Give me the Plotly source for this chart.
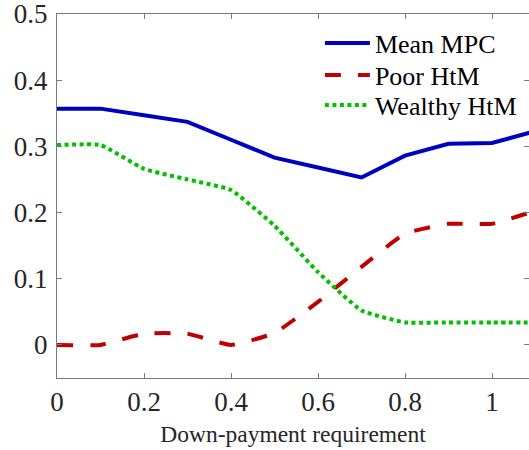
import plotly.graph_objects as go

x = [0.0, 0.1, 0.2, 0.3, 0.4, 0.5, 0.6, 0.7, 0.8, 0.9, 1.0, 1.1]
mean_mpc = [0.357, 0.357, 0.347, 0.337, 0.310, 0.283, 0.268, 0.253, 0.286, 0.304, 0.305, 0.323]
poor_htm = [0.0, 0.0, 0.017, 0.017, 0.0, 0.018, 0.065, 0.118, 0.168, 0.183, 0.183, 0.203]
wealthy_htm = [0.302, 0.302, 0.266, 0.250, 0.234, 0.180, 0.110, 0.052, 0.034, 0.034, 0.034, 0.034]

xticks = [0, 0.2, 0.4, 0.6, 0.8, 1.0]
xticklabels = ["0", "0.2", "0.4", "0.6", "0.8", "1"]
yticks = [0, 0.1, 0.2, 0.3, 0.4, 0.5]
yticklabels = ["0", "0.1", "0.2", "0.3", "0.4", "0.5"]

font_family = "Liberation Serif, Times New Roman, serif"
axis_color = "#7a7a7a"
text_color = "#262626"

fig = go.Figure()
fig.add_trace(go.Scatter(x=x, y=mean_mpc, mode="lines", name="Mean MPC", legend="legend",
                         line=dict(color="#0000c0", width=4)))
fig.add_trace(go.Scatter(x=x, y=poor_htm, mode="lines", name="Poor HtM", legend="legend2",
                         line=dict(color="#c00000", width=4, dash="16px,17px",
                                   shape="spline", smoothing=0.4)))
fig.add_trace(go.Scatter(x=x, y=wealthy_htm, mode="lines", name="Wealthy HtM", legend="legend3",
                         line=dict(color="#00c000", width=4, dash="4px,3.5px",
                                   shape="spline", smoothing=0.4)))

leg_common = dict(x=0.557, xanchor="left", yanchor="middle",
                  bgcolor="rgba(0,0,0,0)", font=dict(size=26, color="black", family=font_family),
                  itemwidth=45)

fig.update_layout(
    width=529, height=450,
    margin=dict(l=57, r=0, t=14, b=72),
    plot_bgcolor="white", paper_bgcolor="white",
    font=dict(family=font_family, color=text_color, size=27),
    showlegend=True,
    legend=dict(y=0.920, **leg_common),
    legend2=dict(y=0.832, **leg_common),
    legend3=dict(y=0.750, **leg_common),
)
fig.update_xaxes(
    range=[0, 1.085], tickvals=xticks, ticktext=xticklabels,
    showline=True, linecolor=axis_color, linewidth=1, mirror="ticks",
    ticks="inside", ticklen=5, tickcolor=axis_color,
    showgrid=False, zeroline=False, ticklabeloverflow="allow",
    tickfont=dict(size=27, family=font_family, color=text_color),
    title=dict(text="Down-payment requirement", font=dict(size=23.5, family=font_family, color=text_color), standoff=9),
)
fig.update_yaxes(
    range=[-0.05, 0.5], tickvals=yticks, ticktext=yticklabels,
    showline=True, linecolor=axis_color, linewidth=1, mirror="ticks",
    ticks="inside", ticklen=5, tickcolor=axis_color,
    showgrid=False, zeroline=False, ticklabeloverflow="allow", ticklabelstandoff=3,
    tickfont=dict(size=27, family=font_family, color=text_color),
)

fig.write_html("out.html")
